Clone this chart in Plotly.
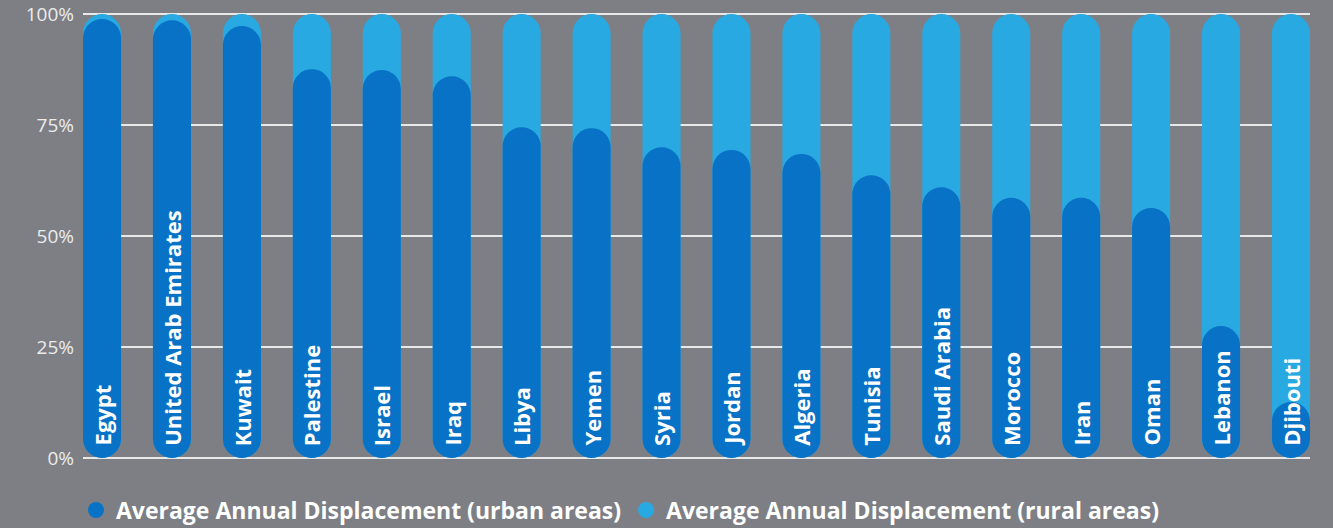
import plotly.graph_objects as go

# Countries in display order
countries = [
    "Egypt", "United Arab Emirates", "Kuwait", "Palestine", "Israel", "Iraq",
    "Libya", "Yemen", "Syria", "Jordan", "Algeria", "Tunisia", "Saudi Arabia",
    "Morocco", "Iran", "Oman", "Lebanon", "Djibouti",
]

# Share of average annual displacement (%)
urban_share = [98.9, 98.6, 97.3, 87.6, 87.4, 86.0, 74.5, 74.3, 70.0, 69.4,
               68.5, 63.7, 61.0, 58.6, 58.6, 56.3, 29.7, 12.6]
rural_share = [round(100 - u, 1) for u in urban_share]

tick_values = [0, 25, 50, 75, 100]
tick_labels = ["0%", "25%", "50%", "75%", "100%"]

URBAN_COLOR = "#0872c7"
RURAL_COLOR = "#29a9e1"
BG_COLOR = "#7d7f85"
FONT = "Open Sans"

total_share = [u + r for u, r in zip(urban_share, rural_share)]


def pill_bar(values, color):
    # explicit base -> plotly rounds both ends of the bar
    return go.Bar(x=countries, y=values, base=[0] * len(values), marker_color=color,
                  marker_line_width=0, marker_cornerradius=19,
                  showlegend=False, hoverinfo="skip")


fig = go.Figure()
fig.add_trace(pill_bar(total_share, RURAL_COLOR))
fig.add_trace(pill_bar(urban_share, URBAN_COLOR))

# legend entries (round markers)
fig.add_trace(go.Scatter(x=[None], y=[None], mode="markers", name="Average Annual Displacement (urban areas)",
                         marker=dict(color=URBAN_COLOR, size=24, symbol="circle")))
fig.add_trace(go.Scatter(x=[None], y=[None], mode="markers", name="Average Annual Displacement (rural areas)",
                         marker=dict(color=RURAL_COLOR, size=24, symbol="circle")))

# country names written inside the bars
for c in countries:
    fig.add_annotation(x=c, y=0, text="<b>%s</b>" % c, textangle=-90, showarrow=False,
                       yanchor="bottom", xanchor="center", yshift=10,
                       font=dict(family=FONT, size=22, color="white"))

fig.update_layout(
    width=1333, height=528,
    barmode="overlay", bargap=0.456,
    paper_bgcolor=BG_COLOR, plot_bgcolor=BG_COLOR,
    margin=dict(l=83, r=23, t=13, b=69, autoexpand=False),
    font=dict(family=FONT, color="#ececec"),
    xaxis=dict(range=[-0.272, 17.272], showticklabels=False, showgrid=False,
               zeroline=False, fixedrange=True, automargin=False),
    yaxis=dict(range=[-0.25, 100.25], tickvals=tick_values, ticktext=tick_labels,
               showgrid=True, gridcolor="#e8e8e8", gridwidth=2, zeroline=False,
               tickfont=dict(size=19, color="#ececec"), ticklabelstandoff=8,
               automargin=False, fixedrange=True),
    legend=dict(orientation="h", xref="container", yref="container",
                x=0.057, xanchor="left", y=0.034, yanchor="middle",
                font=dict(family=FONT, size=23, color="white", weight="bold"),
                itemsizing="trace"),
    showlegend=True,
)

# page body has a default 8px margin; drop it so the figure sits at the window corner
fig.write_html("out.html", config={"displayModeBar": False},
               post_script="document.body.style.margin='0';")
